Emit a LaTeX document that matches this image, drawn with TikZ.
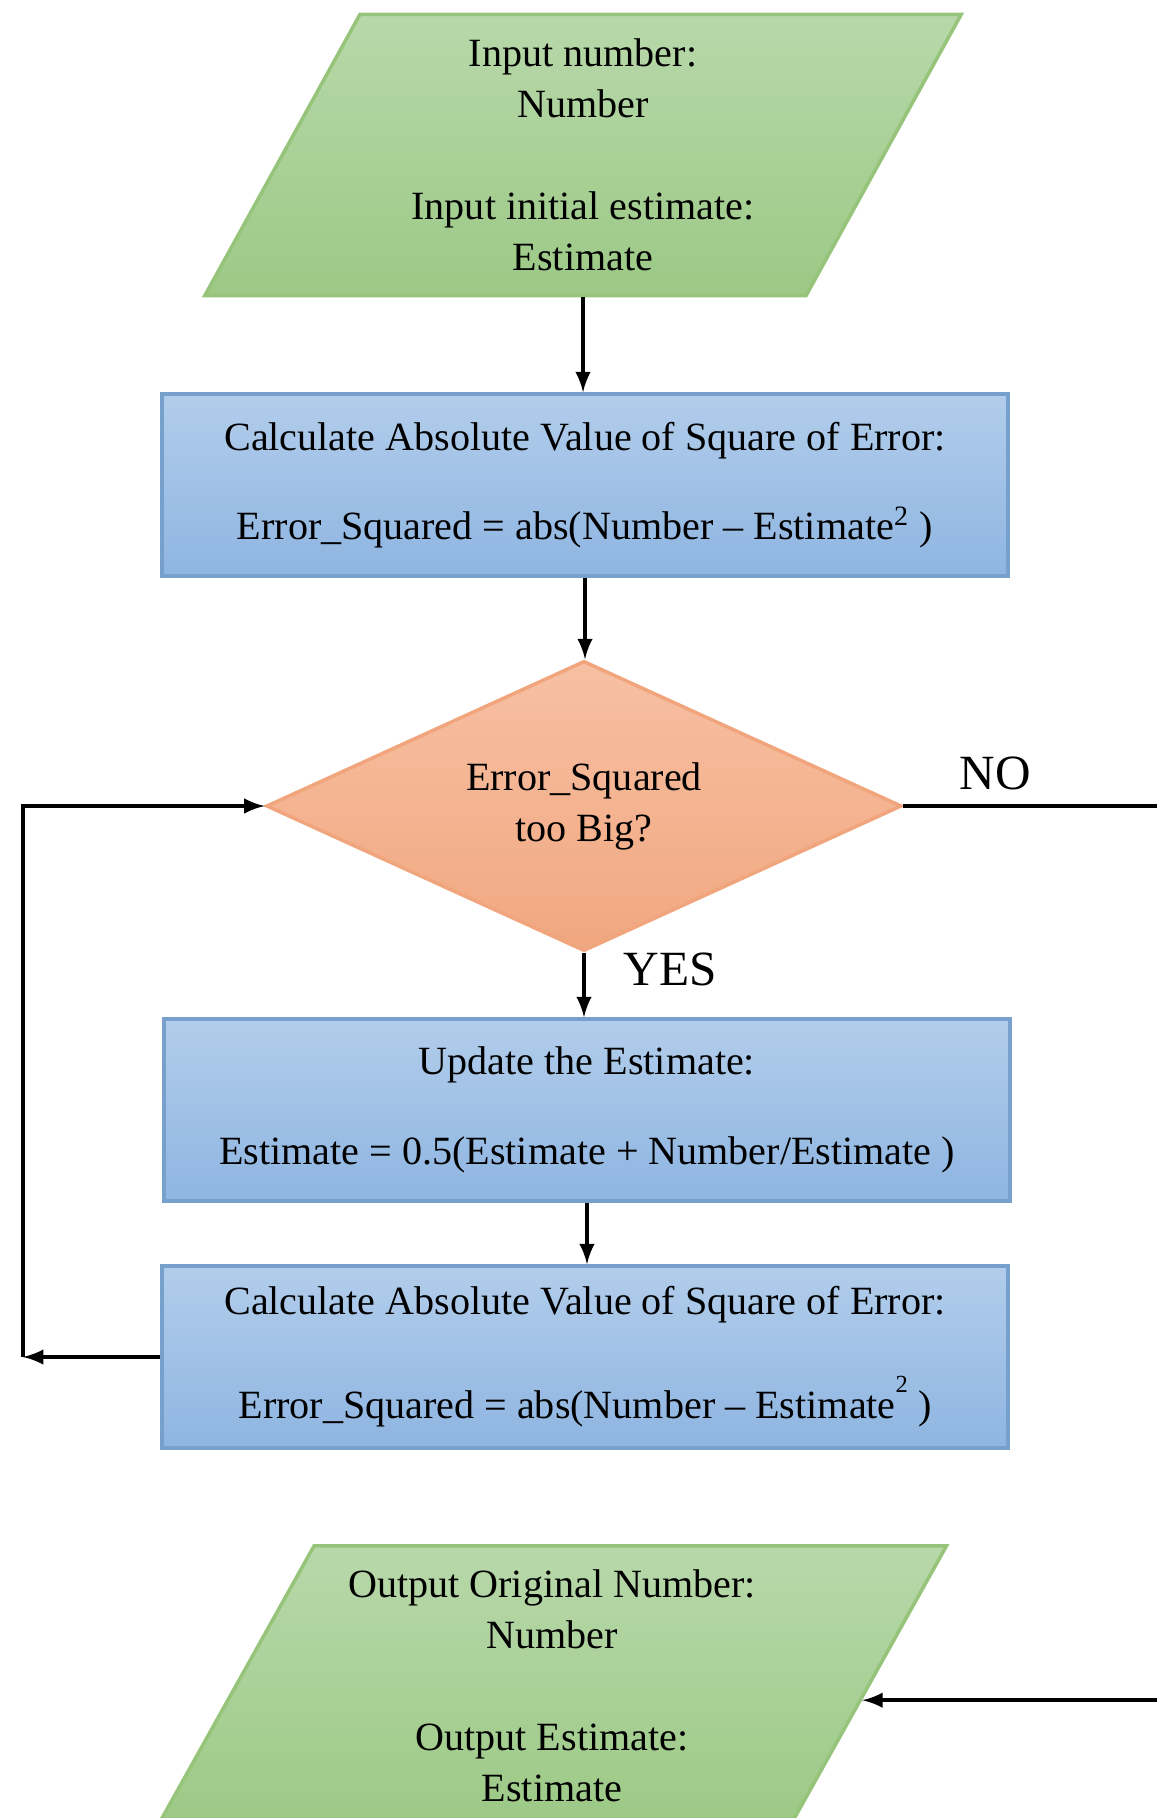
\documentclass[tikz,border=0pt]{standalone}
\usepackage{fontspec}
\setmainfont{Liberation Serif}
\usetikzlibrary{arrows,shapes.geometric,positioning,calc}

\definecolor{ioTop}{RGB}{184,216,170}
\definecolor{ioBot}{RGB}{156,201,134}
\definecolor{ioLine}{RGB}{150,196,122}
\definecolor{procTop}{RGB}{178,205,235}
\definecolor{procBot}{RGB}{142,181,225}
\definecolor{procLine}{RGB}{120,160,205}
\definecolor{decTop}{RGB}{247,192,163}
\definecolor{decBot}{RGB}{241,167,128}
\definecolor{decLine}{RGB}{240,165,125}

\newcommand{\boxfont}{\fontsize{11.4}{14.5}\selectfont}

\tikzset{
  iobox/.style={trapezium, trapezium left angle=63.5, trapezium right angle=116.5,
    trapezium stretches=true, minimum width=7.58cm, minimum height=2.81cm,
    top color=ioTop, bottom color=ioBot, draw=ioLine, line width=1pt,
    align=center, font=\boxfont},
  procbox/.style={rectangle, minimum width=8.45cm, minimum height=1.82cm,
    top color=procTop, bottom color=procBot, draw=procLine, line width=1pt,
    align=center, font=\boxfont},
  decbox/.style={diamond, aspect=2.19, minimum width=6.35cm, minimum height=2.9cm,
    inner sep=0pt, top color=decTop, bottom color=decBot, draw=decLine,
    line width=1pt, align=center, font=\boxfont},
  lbl/.style={font=\fontsize{14}{16}\selectfont, inner sep=0pt},
  flow/.style={line width=1pt, -latex}
}

\begin{document}
\begin{tikzpicture}[x=0.01cm, y=-0.01cm]
    \useasboundingbox (0,0) rectangle (1156,1818);

    % shapes
    \node[iobox] (input) at (583,155)
        {Input number:\\ Number\\[14.5pt] Input initial estimate:\\ Estimate};
    \node[procbox] (calc1) at (585,485)
        {Calculate Absolute Value of Square of Error:\\[11pt]
         Error\_Squared = abs(Number -- Estimate\textsuperscript{2} )};
    \node[decbox] (check) at (584,806) {Error\_Squared\\ too Big?};
    \node[procbox] (update) at (587,1110)
        {Update the Estimate:\\[11pt] Estimate = 0.5(Estimate + Number/Estimate )};
    \node[procbox] (calc2) at (585,1357)
        {Calculate Absolute Value of Square of Error:\\[15pt]
         Error\_Squared = abs(Number -- Estimate\raisebox{1.4ex}{\scriptsize 2} )};
    \node[iobox, trapezium left angle=61, trapezium right angle=119,
        minimum width=7.9cm, minimum height=2.8cm] (output) at (552,1686)
        {Output Original Number:\\ Number\\[14.5pt] Output Estimate:\\ Estimate};

    % labels
    \node[lbl, anchor=west] (yes) at (623,969) {YES};
    \node[lbl] (no) at (995,773) {NO};

    \coordinate (back) at (23,1357);
    \coordinate (noend) at (1220,806);
    \coordinate (outin) at ($(output.bottom right corner)!0.45!(output.top right corner)$);

    % connectors
    \draw[flow] (input.south) -- (input.south |- calc1.north);
    \draw[flow] (calc1.south) -- (calc1.south |- check.north);
    \draw[flow] (check.south) -- (check.south |- update.north);
    \draw[flow] (update.south) -- (update.south |- calc2.north);
    \draw[flow] (calc2.west) -- (back);
    \draw[flow] (back) |- (check.west);
    \draw[line width=1pt] (check.east) -- (noend);
    \draw[flow] (noend) |- (outin);
\end{tikzpicture}
\end{document}
